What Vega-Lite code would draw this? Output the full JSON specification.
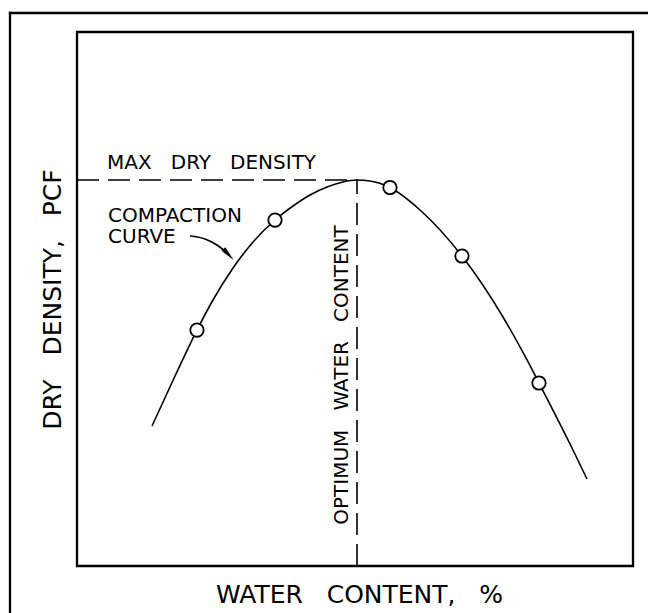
{
  "$schema": "https://vega.github.io/schema/vega-lite/v6.json",
  "width": 556,
  "height": 534,
  "autosize": {"type": "none"},
  "padding": {"left": 77, "top": 32, "right": 15, "bottom": 47},
  "background": "white",
  "config": {
    "view": {"stroke": "black", "strokeWidth": 2.3},
    "font": "DejaVu Sans",
    "axis": {"domain": false, "ticks": false, "labels": false, "grid": false, "titleFont": "DejaVu Sans", "titleFontSize": 25, "titleFontWeight": "normal", "titleColor": "black", "titleBaseline": "alphabetic"}
  },
  "datasets": {
    "curve": [
      {"wc": 13.49, "dd": 26.22}, {"wc": 17.63, "dd": 35.58}, {"wc": 21.58, "dd": 44.19},
      {"wc": 24.46, "dd": 49.81}, {"wc": 28.06, "dd": 55.81}, {"wc": 31.83, "dd": 60.86},
      {"wc": 35.61, "dd": 64.79}, {"wc": 38.85, "dd": 67.42}, {"wc": 41.91, "dd": 69.48},
      {"wc": 44.96, "dd": 70.97}, {"wc": 47.84, "dd": 71.91}, {"wc": 50.36, "dd": 72.28},
      {"wc": 52.70, "dd": 72.10}, {"wc": 56.29, "dd": 70.88}, {"wc": 61.69, "dd": 66.67},
      {"wc": 69.24, "dd": 58.05}, {"wc": 76.62, "dd": 46.63}, {"wc": 80.94, "dd": 38.58},
      {"wc": 83.09, "dd": 34.27}, {"wc": 89.03, "dd": 22.10}, {"wc": 91.73, "dd": 16.29}
    ],
    "tests": [
      {"wc": 21.58, "dd": 44.19}, {"wc": 35.61, "dd": 64.79}, {"wc": 56.29, "dd": 70.88},
      {"wc": 69.24, "dd": 58.05}, {"wc": 83.09, "dd": 34.27}
    ],
    "guides": [
      {"wc": 0, "wc2": 50.36, "dd": 72.28, "dd2": 72.28},
      {"wc": 50.36, "wc2": 50.36, "dd": 0, "dd2": 72.28}
    ],
    "frame": [
      {"wc": -12.05, "wc2": -12.05, "dd": -12, "dd2": 103.56},
      {"wc": -12.05, "wc2": 106, "dd": 103.56, "dd2": 103.56}
    ],
    "labels": [
      {"label": "MAX\u00a0\u00a0\u00a0DRY\u00a0\u00a0\u00a0DENSITY", "wc": 5.40, "dd": 74.34},
      {"label": "COMPACTION\nCURVE", "wc": 5.58, "dd": 64.42}
    ],
    "optlabel": [{"label": "OPTIMUM\u00a0\u00a0\u00a0WATER\u00a0\u00a0\u00a0CONTENT", "wc": 48.74, "dd": 35.77}],
    "arrow": [
      {"wc": 20.32, "dd": 61.80}, {"wc": 23.02, "dd": 61.24}, {"wc": 25.18, "dd": 60.11}, {"wc": 26.80, "dd": 58.80}
    ],
    "arrowhead": [{"wc": 27.25, "dd": 58.33}]
  },
  "layer": [
    {
      "data": {"name": "curve"},
      "mark": {"type": "line", "interpolate": "monotone", "stroke": "black", "strokeWidth": 1.6},
      "encoding": {
        "x": {"field": "wc", "type": "quantitative", "scale": {"domain": [0, 100], "nice": false, "zero": false}, "axis": {"title": "WATER\u00a0\u00a0\u00a0CONTENT,\u00a0\u00a0\u00a0%", "titlePadding": 36, "titleX": 282}},
        "y": {"field": "dd", "type": "quantitative", "scale": {"domain": [0, 100], "nice": false, "zero": false}, "axis": {"title": "DRY\u00a0\u00a0\u00a0DENSITY,\u00a0\u00a0\u00a0PCF", "titlePadding": 17}}
      }
    },
    {
      "data": {"name": "guides"},
      "mark": {"type": "rule", "stroke": "black", "strokeWidth": 1.6, "strokeDash": [22, 9]},
      "encoding": {
        "x": {"field": "wc", "type": "quantitative"},
        "x2": {"field": "wc2"},
        "y": {"field": "dd", "type": "quantitative"},
        "y2": {"field": "dd2"}
      }
    },
    {
      "data": {"name": "tests"},
      "mark": {"type": "point", "shape": "circle", "filled": true, "fill": "white", "stroke": "black", "strokeWidth": 1.8, "size": 180, "opacity": 1},
      "encoding": {
        "x": {"field": "wc", "type": "quantitative"},
        "y": {"field": "dd", "type": "quantitative"}
      }
    },
    {
      "data": {"name": "arrow"},
      "mark": {"type": "line", "interpolate": "monotone", "stroke": "black", "strokeWidth": 1.6},
      "encoding": {
        "x": {"field": "wc", "type": "quantitative"},
        "y": {"field": "dd", "type": "quantitative"}
      }
    },
    {
      "data": {"name": "arrowhead"},
      "mark": {"type": "point", "shape": "M0,-1L0.35,1L-0.35,1Z", "filled": true, "fill": "black", "strokeWidth": 0, "size": 220, "angle": 137, "opacity": 1},
      "encoding": {
        "x": {"field": "wc", "type": "quantitative"},
        "y": {"field": "dd", "type": "quantitative"}
      }
    },
    {
      "data": {"name": "labels"},
      "mark": {"type": "text", "font": "DejaVu Sans", "fontSize": 20, "align": "left", "baseline": "alphabetic", "color": "black", "lineBreak": "\n", "lineHeight": 21.5},
      "encoding": {
        "x": {"field": "wc", "type": "quantitative"},
        "y": {"field": "dd", "type": "quantitative"},
        "text": {"field": "label"}
      }
    },
    {
      "data": {"name": "optlabel"},
      "mark": {"type": "text", "font": "DejaVu Sans", "fontSize": 20, "align": "center", "baseline": "alphabetic", "angle": 270, "color": "black"},
      "encoding": {
        "x": {"field": "wc", "type": "quantitative"},
        "y": {"field": "dd", "type": "quantitative"},
        "text": {"field": "label"}
      }
    },
    {
      "data": {"name": "frame"},
      "mark": {"type": "rule", "stroke": "black", "strokeWidth": 2.3, "strokeCap": "square"},
      "encoding": {
        "x": {"field": "wc", "type": "quantitative"},
        "x2": {"field": "wc2"},
        "y": {"field": "dd", "type": "quantitative"},
        "y2": {"field": "dd2"}
      }
    }
  ]
}
